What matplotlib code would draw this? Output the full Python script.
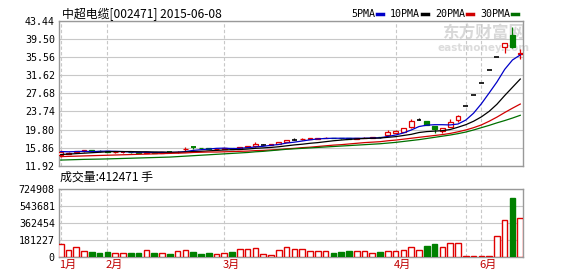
"""K-line chart for 中超电缆 (002471), Jan-Jun 2015, with moving averages and volume."""

import matplotlib

matplotlib.use("Agg")
import matplotlib.pyplot as plt

# trading days shown (suspension between mid-April and late May)
dates = (
    ["2015-01-23", "2015-01-26", "2015-01-27", "2015-01-28", "2015-01-29", "2015-01-30"]
    + ["2015-02-%02d" % d for d in (2, 3, 4, 5, 6, 9, 10, 11, 12, 13, 16, 17, 25, 26, 27)]
    + ["2015-03-%02d" % d for d in (2, 3, 4, 5, 6, 9, 10, 11, 12, 13, 16, 17, 18, 19, 20,
                                    23, 24, 25, 26, 27, 30, 31)]
    + ["2015-04-%02d" % d for d in (1, 2, 3, 7, 8, 9, 10, 13, 14)]
    + ["2015-05-28", "2015-05-29"]
    + ["2015-06-%02d" % d for d in (1, 2, 3, 4, 5, 8)]
)

opens = [14.2, 14.55, 14.9, 15.05, 15.3, 15.15, 15.05, 14.85, 14.85, 14.9,
         14.8, 14.7, 14.85, 14.75, 14.85, 14.8, 15.45, 16.05, 15.8, 15.7,
         15.55, 15.6, 15.75, 15.5, 15.95, 16.2, 16.4, 16.45, 16.7, 17.1,
         17.6, 17.65, 17.7, 17.8, 17.9, 18.0, 17.95, 17.9, 17.8, 17.9,
         18.0, 18.2, 18.6, 19.1, 19.35, 20.3, 21.85, 21.65, 20.55, 19.5,
         20.45, 21.9, 25.0, 27.4, 30.0, 32.8, 35.6, 37.7, 40.4, 36.3]
highs = [15.3, 14.8, 15.2, 15.35, 15.4, 15.25, 15.1, 15.05, 15.1, 14.95,
         14.85, 14.95, 14.9, 14.95, 14.9, 15.1, 15.95, 16.1, 15.85, 15.75,
         15.75, 15.8, 15.8, 16.0, 16.3, 17.0, 16.7, 16.75, 17.1, 17.6,
         17.9, 17.85, 17.95, 18.05, 18.1, 18.05, 18.0, 17.95, 18.0, 18.1,
         18.2, 18.25, 19.6, 19.7, 20.2, 22.1, 22.3, 21.7, 20.6, 20.15,
         22.0, 22.9, 25.0, 27.4, 30.0, 32.8, 35.6, 38.6, 42.2, 37.3]
lows = [13.9, 14.4, 14.8, 14.95, 15.05, 14.95, 14.8, 14.75, 14.7, 14.7,
        14.6, 14.65, 14.7, 14.7, 14.75, 14.75, 15.2, 15.6, 15.5, 15.5,
        15.5, 15.55, 15.6, 15.45, 15.9, 16.1, 16.4, 16.4, 16.65, 17.0,
        17.55, 17.6, 17.65, 17.75, 17.85, 17.85, 17.8, 17.75, 17.75, 17.85,
        17.95, 18.05, 18.5, 19.0, 19.3, 20.2, 21.85, 20.75, 19.1, 19.1,
        20.35, 21.4, 25.0, 27.4, 30.0, 32.8, 35.6, 36.4, 37.5, 35.1]
closes = [14.9, 14.65, 15.1, 15.25, 15.15, 15.05, 14.9, 14.95, 14.9, 14.8,
          14.7, 14.85, 14.75, 14.85, 14.8, 15.0, 15.55, 16.0, 15.7, 15.6,
          15.65, 15.7, 15.65, 15.95, 16.2, 16.6, 16.4, 16.65, 17.0, 17.5,
          17.6, 17.75, 17.85, 17.95, 18.0, 17.9, 17.85, 17.8, 17.95, 18.05,
          18.15, 18.1, 19.3, 19.5, 20.05, 21.65, 21.85, 20.8, 19.85, 20.05,
          21.5, 22.8, 25.0, 27.4, 30.0, 32.8, 35.6, 38.6, 37.85, 36.45]
# candle colour: r = up (hollow red), g = down (solid green), k = flat
candle_kind = list("rrrr" "ggg" "rr" "gg" "r" "g" "r" "g" "rr" "ggg" "rr" "g"
                   "rrr" "k" "rrr" "k" "rrrr" "ggg" "rrr" "g" "rrrr" "k" "gg"
                   "rrr" "kkkkk" "r" "g" "r")
volumes = [133000, 72000, 107000, 61000, 47000, 36000, 50000, 36000, 36000, 43000,
           43000, 68000, 39000, 36000, 29000, 61000, 68000, 50000, 32000, 39000,
           29000, 43000, 50000, 79000, 86000, 93000, 32000, 22000, 68000, 100000,
           79000, 79000, 61000, 61000, 61000, 36000, 47000, 57000, 57000, 61000,
           36000, 50000, 61000, 61000, 68000, 104000, 72000, 115000, 136000, 104000,
           143000, 143000, 3000, 3000, 3000, 3000, 222000, 395000, 631000, 412471]
volume_up = list("rrrr" "ggg" "rr" "gg" "r" "g" "r" "g" "rr" "ggg" "rr" "g"
                 "rrrrrrrrrrrr" "ggg" "rrr" "g" "rrrrr" "gg" "rrrrrrrrr" "g" "r")

ma5 = [15.0, 14.95, 15.0, 15.05, 15.0, 15.05, 15.1, 15.05, 15.0, 14.9,
       14.85, 14.85, 14.8, 14.8, 14.8, 14.85, 15.0, 15.25, 15.4, 15.55,
       15.7, 15.75, 15.65, 15.7, 15.85, 16.0, 16.15, 16.35, 16.55, 16.85,
       17.05, 17.3, 17.55, 17.75, 17.85, 17.9, 17.9, 17.9, 17.9, 17.9,
       17.95, 18.0, 18.3, 18.6, 19.05, 19.7, 20.45, 20.75, 20.85, 20.85,
       20.8, 21.0, 21.85, 23.35, 25.4, 27.75, 30.15, 32.9, 34.95, 36.05]
ma10 = [14.35, 14.45, 14.55, 14.65, 14.75, 14.85, 14.95, 15.0, 15.0, 15.0,
        14.95, 14.95, 14.9, 14.9, 14.85, 14.85, 14.9, 15.0, 15.05, 15.15,
        15.25, 15.35, 15.4, 15.45, 15.55, 15.7, 15.8, 15.9, 16.05, 16.25,
        16.45, 16.6, 16.8, 16.95, 17.15, 17.35, 17.5, 17.65, 17.75, 17.85,
        17.9, 17.95, 18.1, 18.25, 18.5, 18.75, 19.15, 19.35, 19.45, 19.55,
        19.8, 20.3, 20.85, 21.6, 22.55, 23.75, 25.3, 27.2, 29.0, 30.8]
ma20 = [13.9, 13.95, 14.0, 14.05, 14.1, 14.15, 14.2, 14.25, 14.3, 14.35,
        14.4, 14.45, 14.5, 14.55, 14.6, 14.65, 14.7, 14.8, 14.85, 14.9,
        14.9, 14.95, 15.0, 15.05, 15.1, 15.2, 15.25, 15.35, 15.45, 15.6,
        15.7, 15.85, 15.95, 16.1, 16.25, 16.4, 16.5, 16.65, 16.8, 16.95,
        17.05, 17.15, 17.35, 17.5, 17.7, 17.9, 18.1, 18.3, 18.5, 18.7,
        18.95, 19.3, 19.7, 20.2, 20.8, 21.6, 22.5, 23.5, 24.45, 25.35]
ma30 = [13.15, 13.2, 13.25, 13.3, 13.33, 13.36, 13.4, 13.45, 13.5, 13.55,
        13.6, 13.65, 13.7, 13.75, 13.8, 13.9, 14.0, 14.1, 14.2, 14.3,
        14.4, 14.5, 14.6, 14.7, 14.8, 14.95, 15.05, 15.2, 15.35, 15.5,
        15.6, 15.7, 15.8, 15.9, 16.0, 16.1, 16.2, 16.3, 16.4, 16.5,
        16.6, 16.7, 16.85, 17.0, 17.2, 17.4, 17.6, 17.85, 18.1, 18.35,
        18.6, 18.9, 19.25, 19.7, 20.2, 20.7, 21.25, 21.75, 22.3, 22.9]

price_ticks = [11.92, 15.86, 19.80, 23.74, 27.68, 31.62, 35.56, 39.50, 43.44]
volume_ticks = [0, 181227, 362454, 543681, 724908]
ma_labels = ["5PMA", "10PMA", "20PMA", "30PMA"]

RED = "#e00000"
GREEN = "#008000"
MA_COLORS = ["#0000c8", "#000000", "#d00000", "#007000"]
CJK = ["Noto Sans CJK SC", "DejaVu Sans"]
MONO = "DejaVu Sans Mono"


def month_starts(day_list):
    """Return (index, month number) for the first trading day of each month."""
    starts = []
    last = None
    for i, d in enumerate(day_list):
        month = int(d[5:7])
        if month != last:
            starts.append((i, month))
            last = month
    return starts


def style_axis(ax, starts):
    ax.set_xlim(-0.22, len(dates) - 1 + 0.35)
    for side in ax.spines.values():
        side.set_color("#999999")
        side.set_linewidth(1.0)
    ax.tick_params(axis="both", length=0, labelsize=7.2, pad=3)
    ax.set_xticks([])
    for i, _ in starts:
        ax.axvline(i, color="#c8c8c8", lw=0.8, ls=(0, (3, 2)), zorder=1)


def draw_candles(ax):
    body_w = 0.62
    for i, (o, h, l, c, kind) in enumerate(zip(opens, highs, lows, closes, candle_kind)):
        if kind == "k":
            ax.vlines(i, l, h, color="black", lw=0.9, zorder=3)
            ax.hlines(c, i - body_w / 2, i + body_w / 2, color="black", lw=1.2, zorder=3)
            continue
        color = RED if kind == "r" else GREEN
        bottom, top = min(o, c), max(o, c)
        ax.vlines(i, l, h, color=color, lw=0.9, zorder=2)
        if top - bottom < 0.08:
            ax.hlines(c, i - body_w / 2, i + body_w / 2, color=color, lw=1.4, zorder=3)
        else:
            ax.bar(i, top - bottom, bottom=bottom, width=body_w,
                   facecolor="white" if kind == "r" else color,
                   edgecolor=color, linewidth=0.9, zorder=3)


def main():
    starts = month_starts(dates)
    fig = plt.figure(figsize=(5.78, 2.76), dpi=100)
    fig.patch.set_facecolor("white")

    ax = fig.add_axes([59 / 578, 110.3 / 276, 464 / 578, 144.7 / 276])
    style_axis(ax, starts)
    ax.set_ylim(price_ticks[0], price_ticks[-1])
    ax.set_yticks(price_ticks)
    ax.set_yticklabels(["%.2f" % t for t in price_ticks], family=MONO)
    ax.grid(axis="y", color="#c8c8c8", lw=0.8)
    ax.set_axisbelow(True)

    # watermark
    ax.text(0.915, 0.915, "东方财富网", transform=ax.transAxes, ha="center", va="center",
            family=CJK, fontsize=12, fontweight="bold", color="#d8d8d8", zorder=0.5)
    ax.text(0.915, 0.815, "eastmoney.com", transform=ax.transAxes, ha="center", va="center",
            fontsize=7.5, fontweight="bold", color="#dcdcdc", zorder=0.5)

    draw_candles(ax)
    xs = range(len(dates))
    for values, color in zip([ma5, ma10, ma20, ma30], MA_COLORS):
        ax.plot(xs, values, color=color, lw=0.9, zorder=4)

    fig.text(62 / 578, 1 - 14 / 276, "中超电缆[002471] 2015-06-08", family=CJK,
             fontsize=8.6, va="center", ha="left")

    # MA legend, text followed by a short coloured dash
    x = 351 / 578
    for label, color in zip(ma_labels, MA_COLORS):
        t = fig.text(x, 1 - 14 / 276, label, family=MONO, fontsize=7.2, va="center", ha="left")
        fig.canvas.draw()
        bb = t.get_window_extent()
        x_end = bb.x1 / 578
        fig.add_artist(plt.Line2D([x_end + 2 / 578, x_end + 8 / 578],
                                  [1 - 14 / 276, 1 - 14 / 276], color=color, lw=2.5))
        x = x_end + 15 / 578

    # volume panel
    vax = fig.add_axes([59 / 578, 19.3 / 276, 464 / 578, 67.4 / 276])
    style_axis(vax, starts)
    vax.set_ylim(0, volume_ticks[-1])
    vax.set_yticks(volume_ticks)
    vax.set_yticklabels([str(t) for t in volume_ticks], family=MONO)
    vax.grid(axis="y", color="#c8c8c8", lw=0.8)
    vax.set_axisbelow(True)
    for i, (v, kind) in enumerate(zip(volumes, volume_up)):
        color = RED if kind == "r" else GREEN
        vax.bar(i, v, width=0.72, facecolor="white" if kind == "r" else color,
                edgecolor=color, linewidth=1.0, zorder=3)

    fig.text(60 / 578, 1 - 177 / 276, "成交量:%d 手" % volumes[-1], family=CJK,
             fontsize=8.6, va="center", ha="left")

    for i, month in starts:
        if i == starts[-2][0]:
            continue  # May label is hidden behind June's
        vax.text(i - 0.25, -0.05, "%d月" % month, transform=vax.get_xaxis_transform(),
                 family=CJK, fontsize=8, color="#c00000", ha="left", va="top")

    fig.savefig("out.png", dpi=100)


if __name__ == "__main__":
    main()
